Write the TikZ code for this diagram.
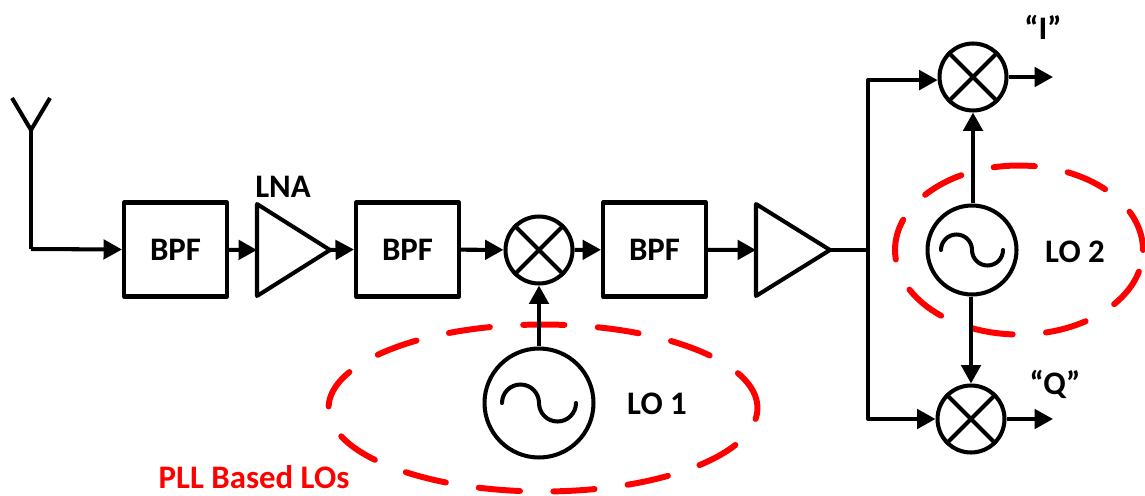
\documentclass[tikz,border=0pt]{standalone}
\usepackage{fontspec}
\setmainfont{Carlito}
\usetikzlibrary{arrows.meta,shapes.geometric}
\tikzset{
	wire/.style={line width=2.3pt,line join=round},
	sig/.style={wire,-{Triangle[length=10.5pt,width=11pt]}},
	filt/.style={draw,wire,minimum width=2.06cm,minimum height=1.88cm,font=\fontsize{18.7}{18.7}\selectfont\bfseries,inner sep=0pt},
	mix/.style={draw,wire,circle,minimum size=1.34cm,inner sep=0pt},
	osc/.style={draw,wire,circle,inner sep=0pt},
	lolabel/.style={font=\fontsize{18.7}{18.7}\selectfont\bfseries,inner sep=0pt},
	group/.style={draw=red,line width=3.4pt,ellipse,inner sep=0pt,line cap=round,dash pattern=on 23.5pt off 19pt}
}
\begin{document}
\begin{tikzpicture}[x=0.02cm,y=0.02cm]
	\useasboundingbox (0,0) rectangle (1145,495);
	% dashed groups go under the blocks
	\node (gpa) [group,minimum width=8.58cm,minimum height=3.34cm] at (543,87) {};
	\node (gpb) [group,minimum width=4.96cm,minimum height=3.38cm] at (1019,245) {};
	% signal chain
	\node (bpfa) [filt] at (175.5,245.5) {BPF};
	\node (bpfb) [filt] at (407.5,245.5) {BPF};
	\node (bpfc) [filt] at (654.5,245.5) {BPF};
	\node (mixa) [mix] at (539,245) {};
	\node (mixi) [mix] at (973,418) {};
	\node (mixq) [mix] at (971,76) {};
	\node (loa) [osc,minimum size=2.18cm] at (539,92) {};
	\node (lob) [osc,minimum size=1.78cm] at (972,245) {};
	% amplifiers and antenna
	\coordinate (lnaw) at (257,245);
	\coordinate (lnae) at (330,245);
	\coordinate (ampw) at (756,245);
	\coordinate (ampe) at (830,245);
	\coordinate (anttip) at (31,365);
	\coordinate (antcnr) at (31,246);
	\coordinate (brch) at (868,245);
	\coordinate (outi) at (1053,418);
	\coordinate (outq) at (1053,76);
	\draw[wire] (257,291) -- (lnae) -- (257,199) -- cycle;
	\draw[wire] (756,291) -- (ampe) -- (756,199) -- cycle;
	\draw[wire] (12,397) -- (anttip) -- (50,397);
	\draw[wire] (anttip) -- (antcnr);
	\draw[wire] (ampe) -- (brch);
	% crosses and sine waves
	\foreach \m in {mixa,mixi,mixq}{
		\draw[wire] (\m.45) -- (\m.225);
		\draw[wire] (\m.135) -- (\m.-45);
	}
	\foreach \o/\r in {loa/18.5,lob/15.5}{
		\draw[wire,line cap=round] (\o.center) ++(-2*\r,0) arc (180:0:\r) arc (180:360:\r);
	}
	% connectors
	\path[sig]
	(antcnr) edge (bpfa.west)
	(bpfa) edge (lnaw)
	(lnae) edge (bpfb.west)
	(bpfb) edge (mixa)
	(mixa) edge (bpfc)
	(bpfc) edge (ampw)
	(loa) edge (mixa)
	(mixi.south |- lob.north) edge (mixi.south)
	(mixq.north |- lob.south) edge (mixq.north)
	(mixi) edge (outi)
	(mixq) edge (outq);
	\draw[sig] (brch) |- (mixi.185);
	\draw[sig] (brch) |- (mixq.west);
	% labels
	\node (lbllna) [lolabel] at (283,308) {LNA};
	\node (lbllo1) [lolabel] at (657,91) {LO 1};
	\node (lbllo2) [lolabel] at (1075,243) {LO 2};
	\node (lbli) [lolabel] at (1043,468) {“I”};
	\node (lblq) [lolabel] at (1055,111) {“Q”};
	\node (lblpll) [lolabel,text=red] at (254,18) {PLL Based LOs};
\end{tikzpicture}
\end{document}
